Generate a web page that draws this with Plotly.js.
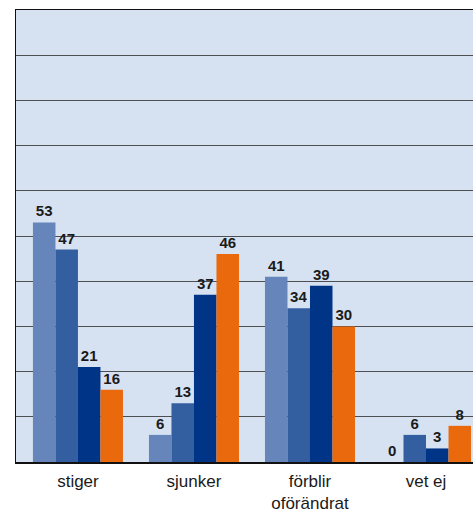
<!DOCTYPE html>
<html>
<head>
<meta charset="utf-8">
<script src="https://cdn.plot.ly/plotly-3.0.1.min.js"></script>
<style>
  html, body { margin: 0; padding: 0; background: #ffffff; }
  #chart { width: 473px; height: 516px; }
</style>
</head>
<body>
<div id="chart"></div>
<script>
// Answer categories
const categories = ['stiger', 'sjunker', 'förblir<br>oförändrat', 'vet ej'];

// Four survey rounds, share of answers (%)
const series1 = [53, 6, 41, 0];
const series2 = [47, 13, 34, 6];
const series3 = [21, 37, 39, 3];
const series4 = [16, 46, 30, 8];

const seriesNames = ['Omgång 1', 'Omgång 2', 'Omgång 3', 'Omgång 4'];
const seriesColors = ['#6686BB', '#335EA0', '#003486', '#EA690D'];

const narrowFont = '"Liberation Sans Narrow", "Liberation Sans", Arial, sans-serif';

const labelFont = {
  family: narrowFont,
  size: 15,
  color: '#1a1a1a',
  weight: 'bold'
};

const traces = [series1, series2, series3, series4].map((vals, i) => ({
  type: 'bar',
  name: seriesNames[i],
  x: categories,
  y: vals,
  marker: { color: seriesColors[i], line: { width: 0 } },
  text: vals.map(String),
  textposition: 'outside',
  textangle: 0,
  cliponaxis: false,
  textfont: labelFont,
  hoverinfo: 'skip'
}));

const layout = {
  width: 473,
  height: 516,
  margin: { l: 16, r: 0, t: 10, b: 54 },
  paper_bgcolor: '#ffffff',
  plot_bgcolor: '#D6E2F1',
  barmode: 'group',
  bargap: 0.224,
  bargroupgap: 0,
  showlegend: false,
  font: { family: narrowFont, color: '#1a1a1a' },
  xaxis: {
    type: 'category',
    range: [-0.534, 3.405],
    showline: true,
    linecolor: '#111111',
    linewidth: 1.5,
    mirror: true,
    ticks: '',
    ticklabelstandoff: 3,
    showgrid: false,
    tickfont: { family: narrowFont, size: 17, color: '#1a1a1a' }
  },
  yaxis: {
    range: [0, 100],
    dtick: 10,
    showgrid: true,
    gridcolor: '#4d4f53',
    gridwidth: 1,
    showline: true,
    linecolor: '#111111',
    linewidth: 1.5,
    zeroline: false,
    showticklabels: false,
    ticks: ''
  }
};

Plotly.newPlot('chart', traces, layout, { displayModeBar: false, staticPlot: true });
</script>
</body>
</html>
